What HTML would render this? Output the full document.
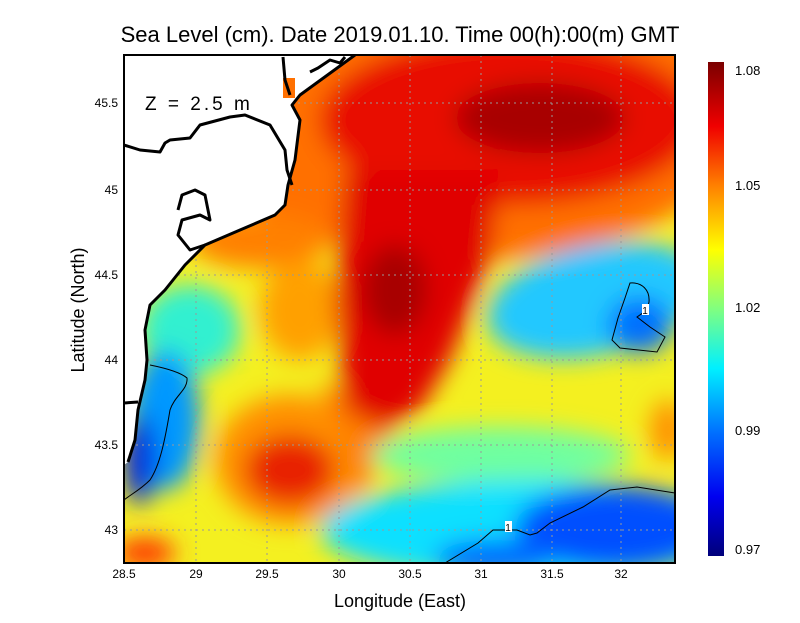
<!DOCTYPE html>
<html><head><meta charset="utf-8"><style>
body{margin:0;background:#fff;width:800px;height:618px;overflow:hidden;font-family:"Liberation Sans",sans-serif}
</style></head><body>
<svg width="800" height="618" viewBox="0 0 800 618" xmlns="http://www.w3.org/2000/svg" font-family="Liberation Sans, sans-serif">
<defs>
<filter id="b" x="-50%" y="-50%" width="200%" height="200%"><feGaussianBlur stdDeviation="12"/></filter>
<clipPath id="c"><rect x="124" y="55" width="551" height="508"/></clipPath>
<linearGradient id="cb" x1="0" y1="1" x2="0" y2="0">
<stop offset="0" stop-color="#00007a"/><stop offset="0.12" stop-color="#0000f0"/><stop offset="0.25" stop-color="#0070ff"/>
<stop offset="0.38" stop-color="#00f0ff"/><stop offset="0.5" stop-color="#80ff80"/><stop offset="0.62" stop-color="#ffff00"/>
<stop offset="0.75" stop-color="#ff8000"/><stop offset="0.87" stop-color="#f00000"/><stop offset="1" stop-color="#7a0000"/>
</linearGradient>
</defs>
<text x="400" y="42" font-size="22" text-anchor="middle" fill="#000">Sea Level (cm). Date 2019.01.10. Time 00(h):00(m) GMT</text>
<g clip-path="url(#c)">
<rect x="124" y="55" width="551" height="508" fill="#f4f020"/>
<g filter="url(#b)">
<ellipse cx="470" cy="110" rx="280" ry="150" fill="#ff7000"/>
<ellipse cx="510" cy="120" rx="190" ry="85" fill="#e81000"/>
<ellipse cx="540" cy="118" rx="85" ry="35" fill="#a80000"/>
<ellipse cx="260" cy="240" rx="70" ry="28" fill="#ff8000"/>
<ellipse cx="290" cy="460" rx="75" ry="65" fill="#ff9000"/>
<ellipse cx="300" cy="310" rx="40" ry="50" fill="#ffa000"/>
<path d="M320,380 L360,500 L400,420 Z" fill="#ff8000"/>
<path d="M345,170 L500,170 L490,260 L470,310 L450,360 L420,410 L385,430 L345,410 L335,300 Z" fill="#e00000"/>
<ellipse cx="395" cy="290" rx="32" ry="45" fill="#a80000"/>
<ellipse cx="595" cy="300" rx="110" ry="55" transform="rotate(-12 595 300)" fill="#20c8ff"/>
<ellipse cx="640" cy="325" rx="32" ry="28" fill="#0070ff"/>
<ellipse cx="500" cy="455" rx="130" ry="28" fill="#70ffa0"/>
<ellipse cx="530" cy="530" rx="210" ry="50" fill="#10e0ff"/>
<ellipse cx="615" cy="528" rx="100" ry="42" fill="#0050ff"/>
<ellipse cx="495" cy="558" rx="60" ry="18" fill="#0068ff"/>
<ellipse cx="668" cy="430" rx="18" ry="30" fill="#ff9000"/>
<ellipse cx="190" cy="330" rx="50" ry="45" fill="#30f0d0"/>
<ellipse cx="165" cy="420" rx="35" ry="70" fill="#0098ff"/>
<ellipse cx="140" cy="460" rx="16" ry="45" fill="#0020e0"/>
<ellipse cx="290" cy="470" rx="45" ry="35" fill="#e82000"/>
<ellipse cx="145" cy="553" rx="30" ry="15" fill="#ff3000"/>
</g>
<g stroke="#999" stroke-width="1" stroke-dasharray="2,4">
<line x1="196" y1="55" x2="196" y2="563"/><line x1="267" y1="55" x2="267" y2="563"/><line x1="339" y1="55" x2="339" y2="563"/><line x1="410" y1="55" x2="410" y2="563"/><line x1="481" y1="55" x2="481" y2="563"/><line x1="552" y1="55" x2="552" y2="563"/><line x1="621" y1="55" x2="621" y2="563"/>
<line x1="124" y1="103" x2="675" y2="103"/><line x1="124" y1="190" x2="675" y2="190"/><line x1="124" y1="275" x2="675" y2="275"/><line x1="124" y1="360" x2="675" y2="360"/><line x1="124" y1="445" x2="675" y2="445"/><line x1="124" y1="530" x2="675" y2="530"/>
</g>
<path d="M124,55 L355,55 L300,95 L292,105 L300,120 L295,160 L288,185 L285,205 L275,215 L240,230 L205,245 L185,265 L165,290 L150,305 L145,330 L147,360 L145,380 L138,410 L135,440 L128,462 L124,465 Z" fill="#fff"/>
<rect x="283" y="78" width="12" height="20" fill="#ff7000"/>
<g fill="none" stroke="#000" stroke-width="3" stroke-linejoin="round">
<path d="M355,55 L300,95 L292,105 L300,120 L295,160 L288,185 L285,205 L275,215 L240,230 L205,245 L185,265 L165,290 L150,305 L145,330 L147,360 L145,380 L138,410 L135,440 L128,462"/>
<path d="M124,145 L140,150 L160,152 L165,143 L170,140 L190,138 L200,125 L230,117 L245,115 L270,125 L285,150 L287,170 L292,185"/>
<path d="M283,57 L285,80 L290,95"/>
<path d="M310,72 L318,68 L330,60 L340,63 L345,57"/>
<path d="M205,245 L190,250 L178,235 L182,220 L200,215 L210,220 L205,195 L195,190 L182,195 L178,210"/>
<path d="M124,403 L138,402"/>
</g>
<g fill="none" stroke="#000" stroke-width="1">
<path d="M630,283 C642,282 650,290 649,302 L647,310 L637,317 L650,327 L665,337 L657,352 L620,348 L612,340 L618,318 L625,298 Z"/>
<path d="M445,563 L478,543 L493,530 L517,530 L530,535 L537,533 L550,523 L583,507 L610,490 L637,487 L675,493"/>
<path d="M150,365 C165,368 180,372 187,378 C188,390 175,395 170,410 C165,440 160,465 150,480 C140,490 130,495 124,500"/>
</g>
<rect x="642" y="304" width="7" height="11" fill="#fff"/><text x="645" y="314" font-size="10" text-anchor="middle">1</text>
<rect x="505" y="521" width="7" height="11" fill="#fff"/><text x="508" y="531" font-size="10" text-anchor="middle">1</text>
</g>
<rect x="124" y="55" width="551" height="508" fill="none" stroke="#000" stroke-width="2"/>
<text x="145" y="110" font-size="19" fill="#000" letter-spacing="3">Z = 2.5 m</text>
<g font-size="12" text-anchor="middle" fill="#000">
<text x="124" y="578">28.5</text><text x="196" y="578">29</text><text x="267" y="578">29.5</text><text x="339" y="578">30</text><text x="410" y="578">30.5</text><text x="481" y="578">31</text><text x="552" y="578">31.5</text><text x="621" y="578">32</text>
</g>
<g font-size="12" text-anchor="end" fill="#000">
<text x="118" y="107">45.5</text><text x="118" y="194">45</text><text x="118" y="279">44.5</text><text x="118" y="364">44</text><text x="118" y="449">43.5</text><text x="118" y="534">43</text>
</g>
<text x="400" y="607" font-size="18" text-anchor="middle">Longitude (East)</text>
<text x="84" y="310" font-size="18" text-anchor="middle" transform="rotate(-90 84 310)">Latitude (North)</text>
<rect x="708" y="62" width="16" height="494" fill="url(#cb)"/>
<g font-size="13" fill="#000">
<text x="735" y="75">1.08</text><text x="735" y="190">1.05</text><text x="735" y="312">1.02</text><text x="735" y="435">0.99</text><text x="735" y="554">0.97</text>
</g>
</svg>
</body></html>
